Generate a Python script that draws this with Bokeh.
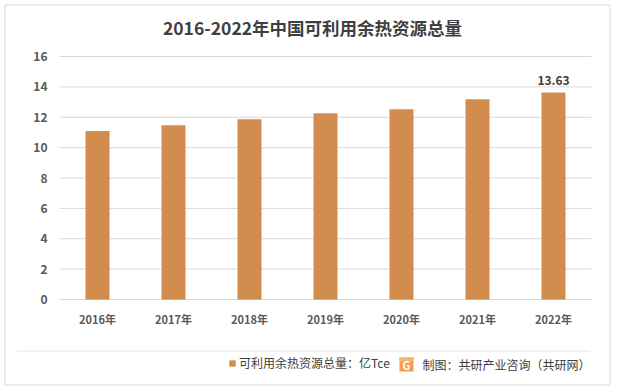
from bokeh.plotting import figure
from bokeh.models import Label, Legend, LegendItem, Range1d, ColumnDataSource
from bokeh.embed import file_html
from bokeh.resources import INLINE
from bokeh.core.properties import value

# ---- data ----
years = ["2016年", "2017年", "2018年", "2019年", "2020年", "2021年", "2022年"]
values = [11.10, 11.47, 11.87, 12.26, 12.53, 13.18, 13.63]
y_ticks = [0, 2, 4, 6, 8, 10, 12, 14, 16]
y_tick_labels = ["0", "2", "4", "6", "8", "10", "12", "14", "16"]
title_text = "2016-2022年中国可利用余热资源总量"
series_name = "可利用余热资源总量：亿Tce"
source_text = "制图：共研产业咨询（共研网）"

labels = ["" for _ in values[:-1]] + [f"{values[-1]:.2f}"]

# ---- layout constants (pixels, canvas from top-left) ----
W, H = 617, 389
PL, PR, PT, PB = 59, 591, 56, 299          # plot area inside canvas
n = len(years)
px_x = (PR - PL) / n
px_y = (PB - PT) / (y_ticks[-1] - y_ticks[0])
x_start = -0.5 - PL / px_x
x_end = n - 0.5 + (W - PR) / px_x
y_start = y_ticks[0] - (H - PB) / px_y
y_end = y_ticks[-1] + PT / px_y


def dx(px):
    return x_start + px / px_x


def dy(py):
    return y_end - py / px_y


def sy(py):
    return H - py


FONT = "Noto Sans CJK SC"
BAR = "#D38C4F"
GRID = "#D9D9D9"
TXT = "#595959"
DARK = "#404040"

idx = list(range(n))
src = ColumnDataSource(dict(x=idx, top=values, label=labels))

p = figure(width=W, height=H, x_range=Range1d(x_start, x_end),
           y_range=Range1d(y_start, y_end), output_backend="svg",
           toolbar_location=None, x_axis_location=None, y_axis_location=None,
           min_border=0)
p.grid.visible = False
p.outline_line_color = None
p.background_fill_color = "white"
p.border_fill_color = "white"

# outer frame and separator
p.quad(left=[dx(4.5)], right=[dx(609.5)], top=[dy(4.5)], bottom=[dy(384.5)],
       fill_color=None, line_color=GRID, line_width=1)
p.segment(x0=[dx(16)], x1=[dx(590)], y0=[dy(350.5)], y1=[dy(350.5)],
          line_color="#E3E3E3", line_width=1)

# gridlines over the plot area
p.segment(x0=[-0.5] * len(y_ticks), x1=[n - 0.5] * len(y_ticks),
          y0=y_ticks, y1=y_ticks, line_color=GRID, line_width=1)

bars = p.vbar(x="x", top="top", width=24 / px_x, source=src,
              fill_color=BAR, line_color=None)

# value label
p.text(x="x", y="top", text="label", source=src, y_offset=-7,
       text_align="center", text_baseline="bottom",
       text_font=value(FONT), text_font_size="12px",
       text_font_style="bold", text_color=DARK)

# y tick labels
p.text(x=[-0.5] * len(y_ticks), y=y_ticks, text=y_tick_labels, x_offset=-12,
       text_align="right", text_baseline="middle",
       text_font=value(FONT), text_font_size="12px",
       text_font_style="bold", text_color=TXT)

# x tick labels
p.text(x=idx, y=[y_ticks[0]] * n, text=years, y_offset=19,
       text_align="center", text_baseline="middle",
       text_font=value(FONT), text_font_size="11px",
       text_font_style="bold", text_color=TXT)

# title
p.add_layout(Label(x=312, y=sy(27), x_units="screen", y_units="screen",
                   text=title_text, text_align="center", text_baseline="middle",
                   text_font=FONT, text_font_size="17.5px", text_font_style="bold",
                   text_color=DARK))

# legend
legend = Legend(items=[LegendItem(label=series_name, renderers=[bars])],
                location=(228, sy(371)), orientation="horizontal",
                background_fill_alpha=0, border_line_color=None,
                padding=0, margin=0, spacing=0,
                glyph_width=8, glyph_height=8, label_standoff=3,
                label_height=14, label_text_font=FONT,
                label_text_font_size="12px", label_text_color=DARK)
p.add_layout(legend, "center")

# logo (orange square with a white G)
p.rect(x=[dx(406)], y=[dy(364)], width=14 / px_x, height=14 / px_y,
       fill_color="#F39B50", line_color=None)
p.rect(x=[dx(406)], y=[dy(359)], width=14 / px_x, height=4 / px_y,
       fill_color="#F6B46E", line_color=None)
p.add_layout(Label(x=406, y=sy(364), x_units="screen", y_units="screen",
                   text="G", text_align="center", text_baseline="middle",
                   text_font=FONT, text_font_size="11px", text_font_style="bold",
                   text_color="white"))

# source
p.add_layout(Label(x=422, y=sy(364), x_units="screen", y_units="screen",
                   text=source_text, text_align="left", text_baseline="middle",
                   text_font=FONT, text_font_size="12px", text_color=DARK))

open("out.html", "w").write(file_html(p, INLINE))
